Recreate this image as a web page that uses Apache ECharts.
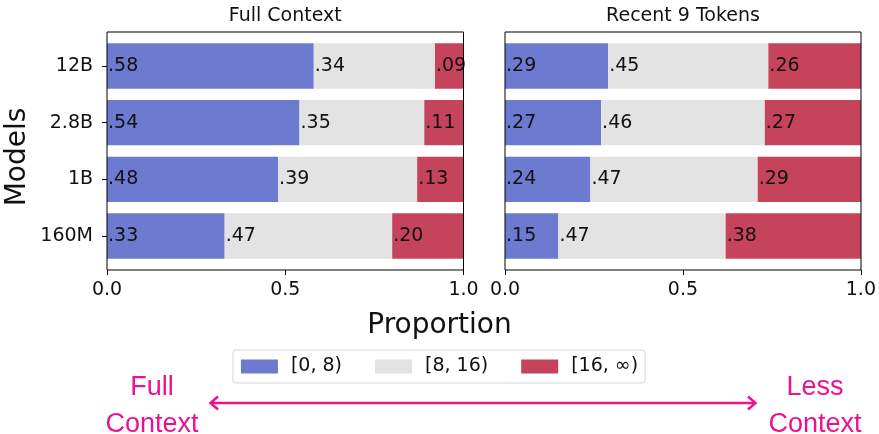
<!DOCTYPE html>
<html>
<head>
<meta charset="utf-8">
<script src="https://cdn.jsdelivr.net/npm/echarts@6/dist/echarts.min.js"></script>
<style>
  html, body { margin: 0; padding: 0; background: #fff; }
  #chart { width: 879px; height: 434px; }
</style>
</head>
<body>
<div id="chart"></div>
<script>
// Model sizes (bottom to top on the category axis)
const categories = ['160M', '1B', '2.8B', '12B'];
const xTicks = [0, 0.5, 1];
const bucketNames = ['[0, 8)', '[8, 16)', '[16, \u221e)'];

// Proportions with full context
const fullLow  = [0.33, 0.48, 0.54, 0.58];
const fullMid  = [0.47, 0.39, 0.35, 0.34];
const fullHigh = [0.20, 0.13, 0.11, 0.09];

// Proportions with only the recent 9 tokens
const recentLow  = [0.15, 0.24, 0.27, 0.29];
const recentMid  = [0.47, 0.47, 0.46, 0.45];
const recentHigh = [0.38, 0.29, 0.27, 0.26];

const colors = ['#6c7bd0', '#e3e3e3', '#c5445b'];
const FONT = 'DejaVu Sans';
const ink = '#111';
const pink = '#ec118f';

// panel layout
const panelTop = 32, panelH = 238;
const panels = [{ left: 107, width: 356.5 }, { left: 505, width: 356 }];
const slotPad = 5.6; // space between frame and outer category slots
const gridTop = panelTop + slotPad;
const gridH = panelH - 2 * slotPad;

const fmt = v => v.toFixed(2).replace(/^0/, '');

function barSeries(name, data, idx, stack, color) {
  return {
    type: 'bar', name, data, stack,
    xAxisIndex: idx, yAxisIndex: idx,
    barCategoryGap: '20%',
    itemStyle: { color },
    label: {
      show: true, position: 'insideLeft', distance: 1,
      color: ink, fontFamily: FONT, fontSize: 19,
      formatter: p => fmt(p.value)
    }
  };
}

const chart = echarts.init(document.getElementById('chart'), null, { renderer: 'canvas' });

const xAxisCommon = {
  type: 'value', min: xTicks[0], max: xTicks[xTicks.length - 1], interval: 0.5,
  offset: slotPad,
  axisLine: { show: false },
  axisTick: { show: true, length: 5, lineStyle: { color: '#000', width: 1 } },
  splitLine: { show: false },
  axisLabel: { fontFamily: FONT, fontSize: 19, color: ink, margin: 11, formatter: v => v.toFixed(1) }
};

const titleStyle = (size) => ({ fontFamily: FONT, fontSize: size, fontWeight: 'normal', color: ink });

chart.setOption({
  animation: false,
  backgroundColor: '#fff',
  color: colors,
  title: [
    { text: 'Full Context', left: panels[0].left + panels[0].width / 2 - 5, textAlign: 'center', top: 2, textStyle: titleStyle(19) },
    { text: 'Recent 9 Tokens', left: panels[1].left + panels[1].width / 2 - 5, textAlign: 'center', top: 2, textStyle: titleStyle(19) },
    { text: 'Proportion', left: 434.5, textAlign: 'center', top: 307, textStyle: titleStyle(28) }
  ],
  legend: {
    left: 'center', top: 350,
    data: bucketNames,
    icon: 'rect', itemWidth: 37, itemHeight: 14, itemGap: 33,
    padding: [7, 7, 7, 8],
    backgroundColor: '#fff', borderColor: '#d6d6d6', borderWidth: 1, borderRadius: 3,
    textStyle: { fontFamily: FONT, fontSize: 19, color: ink, padding: [0, 0, 0, 8] },
    selectedMode: false
  },
  grid: panels.map(p => ({ left: p.left, top: gridTop, width: p.width, height: gridH })),
  xAxis: [Object.assign({ gridIndex: 0 }, xAxisCommon), Object.assign({ gridIndex: 1 }, xAxisCommon)],
  yAxis: [
    { type: 'category', gridIndex: 0, data: categories,
      axisLine: { show: false },
      axisTick: { show: true, alignWithLabel: true, length: 5, lineStyle: { color: '#000', width: 1 } },
      axisLabel: { fontFamily: FONT, fontSize: 19, color: ink, margin: 14 } },
    { type: 'category', gridIndex: 1, data: categories,
      axisLine: { show: false }, axisTick: { show: false }, axisLabel: { show: false } }
  ],
  series: [
    barSeries(bucketNames[0], fullLow, 0, 'full', colors[0]),
    barSeries(bucketNames[1], fullMid, 0, 'full', colors[1]),
    barSeries(bucketNames[2], fullHigh, 0, 'full', colors[2]),
    barSeries(bucketNames[0], recentLow, 1, 'recent', colors[0]),
    barSeries(bucketNames[1], recentMid, 1, 'recent', colors[1]),
    barSeries(bucketNames[2], recentHigh, 1, 'recent', colors[2])
  ],
  graphic: [
    // panel frames
    ...panels.map(p => ({
      type: 'rect', z: 100, silent: true,
      shape: { x: p.left, y: panelTop, width: p.width, height: panelH },
      style: { fill: 'none', stroke: '#000', lineWidth: 1 }
    })),
    { type: 'text', x: 18, y: 157, rotation: Math.PI / 2,
      style: { text: 'Models', fontFamily: FONT, fontSize: 28, fill: ink, align: 'center', verticalAlign: 'middle' } },
    // context direction arrow
    { type: 'polyline', shape: { points: [[211, 403], [755, 403]] }, style: { stroke: pink, lineWidth: 2.5, fill: 'none' } },
    { type: 'polyline', shape: { points: [[218, 396.5], [210.5, 403], [218, 409.5]] }, style: { stroke: pink, lineWidth: 2.5, fill: 'none' } },
    { type: 'polyline', shape: { points: [[748, 396.5], [755.5, 403], [748, 409.5]] }, style: { stroke: pink, lineWidth: 2.5, fill: 'none' } },
    { type: 'text', x: 152, y: 388, style: { text: 'Full', fontFamily: 'Liberation Sans', fontSize: 27, fill: pink, align: 'center', verticalAlign: 'middle' } },
    { type: 'text', x: 152, y: 425, style: { text: 'Context', fontFamily: 'Liberation Sans', fontSize: 27, fill: pink, align: 'center', verticalAlign: 'middle' } },
    { type: 'text', x: 815, y: 388, style: { text: 'Less', fontFamily: 'Liberation Sans', fontSize: 27, fill: pink, align: 'center', verticalAlign: 'middle' } },
    { type: 'text', x: 815, y: 425, style: { text: 'Context', fontFamily: 'Liberation Sans', fontSize: 27, fill: pink, align: 'center', verticalAlign: 'middle' } }
  ]
});
</script>
</body>
</html>
